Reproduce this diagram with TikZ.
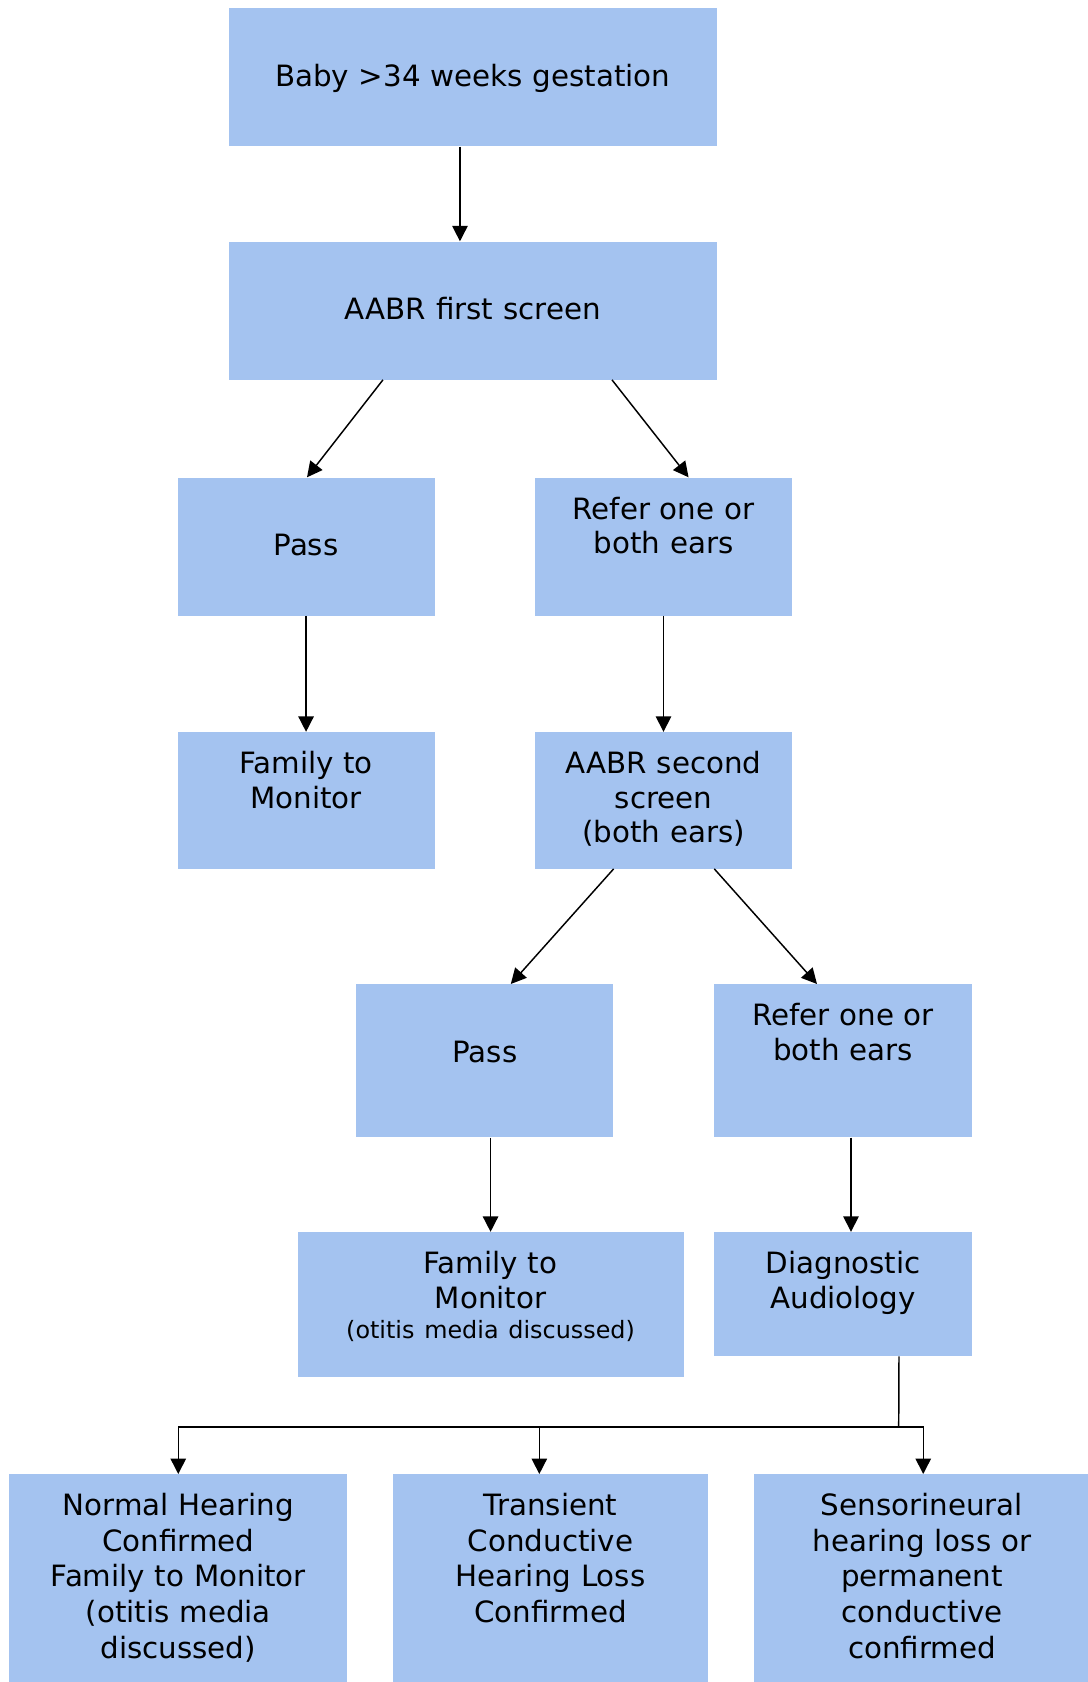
\documentclass[tikz,border=0pt]{standalone}
\usepackage{fontspec}
\setmainfont{DejaVu Sans}
\usepackage{tikz}
\usetikzlibrary{arrows.meta}
\definecolor{boxblue}{RGB}{164,195,240}
\tikzstyle{process} = [rectangle, anchor=north west, inner sep=0pt, fill=boxblue, align=center, text height=31.1pt, font=\fontsize{22}{26}\selectfont]
\tikzstyle{single}  = [process, text height=58.3pt]
\tikzstyle{result}  = [process, font=\fontsize{22}{26.7}\selectfont, text depth=124.9pt]
\tikzstyle{arrow}   = [line width=1.1pt, -{Triangle[length=11.5pt,width=11.5pt]}]
\tikzstyle{link}    = [line width=1.1pt]

\begin{document}
\begin{tikzpicture}[x=0.75pt, y=-0.75pt]
    \useasboundingbox (0,0) rectangle (1088,1682);
    % Nodes
    %% First screen
    \node (baby)           [single, text width=366pt, text depth=45.2pt]    at (228.5,8)      {Baby >34 weeks gestation};
    \node (first_screen)   [single, text width=366pt, text depth=45.2pt]    at (228.5,241.3)  {AABR first screen};
    \node (pass_first)     [single, text width=192.75pt, text depth=45.3pt] at (177.3,477.3)  {Pass};
    \node (refer_first)    [process, text width=193.1pt, text depth=72.5pt] at (534.5,477.3)  {Refer one or\\both ears};
    \node (monitor_first)  [process, text width=192.75pt, text depth=71.3pt] at (177.3,731.8) {Family to\\Monitor};
    %% Second screen
    \node (second_screen)  [process, text width=193.1pt, text depth=71.3pt] at (534.5,731.8)  {AABR second\\screen\\(both ears)};
    \node (pass_second)    [single, text width=192.8pt, text depth=56.5pt]  at (356,984)      {Pass};
    \node (refer_second)   [process, text width=193.3pt, text depth=83.7pt] at (714,984)      {Refer one or\\both ears};
    \node (monitor_second) [process, text width=289.5pt, text depth=77.6pt] at (297.3,1231.8) {Family to\\Monitor\\[-3.5pt]{\fontsize{17.9}{22.5}\selectfont(otitis media discussed)}};
    \node (diagnostic)     [process, text width=193.3pt, text depth=61.9pt] at (714,1231.8)   {Diagnostic\\Audiology};
    %% Outcomes
    \node (normal)         [result, text width=253.5pt] at (9,1474)     {Normal Hearing\\Confirmed\\Family to Monitor\\(otitis media\\discussed)};
    \node (transient)      [result, text width=235.9pt] at (393,1474)   {Transient\\Conductive\\Hearing Loss\\Confirmed};
    \node (sensorineural)  [result, text width=252.4pt] at (753.5,1474) {Sensorineural\\hearing loss or\\permanent\\conductive\\confirmed};

    % Arrows
    \draw [arrow] ([xshift=-9.6pt]baby.south)            -- ([xshift=-9.6pt]first_screen.north);
    \draw [arrow] ([xshift=-67.35pt]first_screen.south)  -- ([xshift=0.7pt]pass_first.north);
    \draw [arrow] ([xshift=104.4pt]first_screen.south)   -- ([xshift=18.8pt]refer_first.north);
    \draw [arrow] (pass_first)                           -- (monitor_first);
    \draw [arrow] (refer_first)                          -- (second_screen);
    \draw [arrow] ([xshift=-37.4pt]second_screen.south)  -- ([xshift=19.5pt]pass_second.north);
    \draw [arrow] ([xshift=38.1pt]second_screen.south)   -- ([xshift=-19.6pt]refer_second.north);
    \draw [arrow] (monitor_second.north |- pass_second.south) -- (monitor_second.north);
    \draw [arrow] ([xshift=5.9pt]refer_second.south)     -- ([xshift=5.9pt]diagnostic.north);

    % Split to the outcomes
    \coordinate (split)    at (898.7,1427);
    \coordinate (mid_top)  at ([xshift=-8.4pt]transient.north);
    \draw [link]  ([xshift=41.9pt]diagnostic.south) -- (split);
    \draw [arrow] (split)                           -| ([xshift=0.9pt]sensorineural.north);
    \draw [arrow] (split)                           -| (normal.north);
    \draw [arrow] (mid_top |- split)                -- (mid_top);
\end{tikzpicture}
\end{document}
